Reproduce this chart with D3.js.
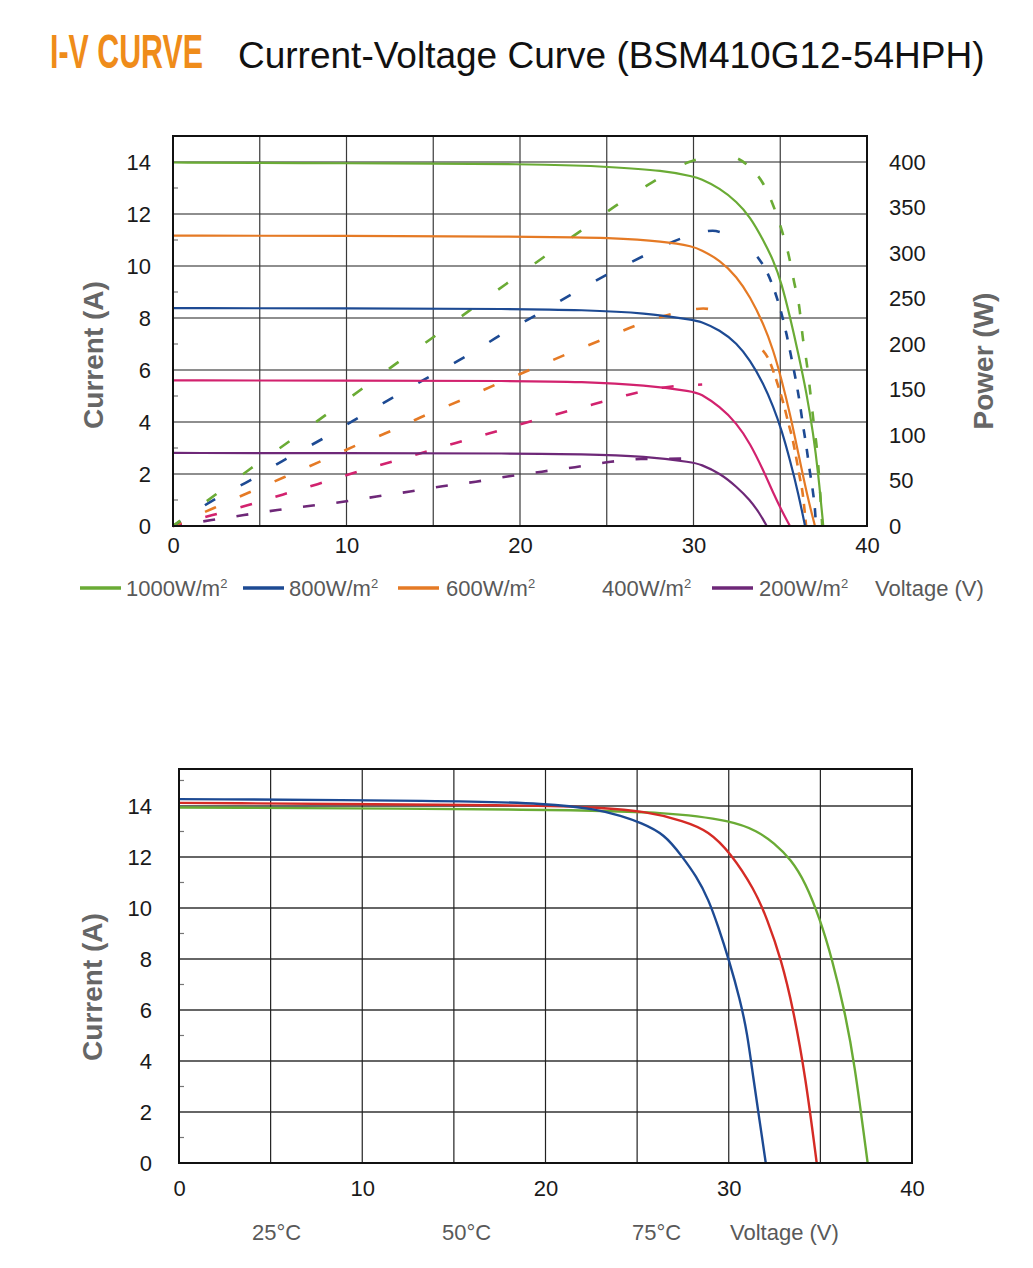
<!DOCTYPE html>
<html>
<head>
<meta charset="utf-8">
<script src="https://cdn.jsdelivr.net/npm/d3@7"></script>
<style>
  body { margin: 0; background: #fff; }
  text { font-family: "Liberation Sans", Arial, sans-serif; }
</style>
</head>
<body>
<div id="chart"></div>
<script>
// ---- data ----
// top panel: I-V curves [voltage V, current A]
const ivGreen = [[0,13.98],[5,13.97],[10,13.95],[15,13.94],[20,13.92],[23.5,13.86],[24.6,13.83],[28.45,13.67],[30.0,13.43],[30.37,13.37],[31.53,12.99],[32.49,12.47],[33.26,11.9],[34.02,11.0],[34.6,10.23],[35.08,9.33],[35.56,8.05],[36.04,6.64],[36.52,5.1],[36.9,3.56],[37.19,2.03],[37.48,0]];
const ivOrange = [[0,11.17],[10,11.16],[20,11.13],[23.5,11.1],[24.6,11.09],[28.45,10.95],[30.0,10.74],[30.37,10.64],[31.53,10.23],[32.49,9.59],[33.26,8.82],[34.02,7.8],[34.6,6.77],[35.08,5.62],[35.56,4.33],[36.04,2.8],[36.52,1.26],[37.0,0]];
const ivBlue = [[0,8.38],[10,8.37],[20,8.35],[23.5,8.31],[27.3,8.2],[30.0,7.92],[30.37,7.88],[31.53,7.54],[32.49,7.03],[33.26,6.38],[34.02,5.49],[34.6,4.59],[35.08,3.69],[35.56,2.54],[36.04,1.26],[36.43,0]];
const ivMagenta = [[0,5.6],[10,5.59],[20,5.58],[23.5,5.55],[27.3,5.42],[30.0,5.17],[30.37,5.1],[31.53,4.59],[32.49,3.95],[33.26,3.18],[34.02,2.15],[34.6,1.26],[35.08,0.6],[35.56,0]];
const ivPurple = [[0,2.81],[10,2.8],[20,2.79],[23.5,2.77],[27.3,2.68],[30.0,2.44],[30.37,2.38],[31.53,2.03],[32.49,1.51],[33.26,1.0],[33.8,0.5],[34.22,0]];

// top panel: P-V curves [voltage V, power W]
const pvGreen = [[0,0],[2.42,34],[4.5,63.4],[6.63,92],[8.73,121],[10.84,150],[12.9,179],[15.04,208],[17.1,237],[19.2,266],[21.3,294.5],[23.4,323],[25.53,352],[27.64,378],[29.74,400],[31.82,409],[33.2,395],[34.05,375],[34.6,352],[35.07,326],[35.48,298],[35.8,268],[36.1,240],[36.3,207],[36.54,177],[36.73,147],[36.93,113],[37.13,81],[37.26,48],[37.42,0]];
const pvBlue = [[0,0],[2.44,29.7],[4.47,50.5],[6.5,73.6],[8.6,95.6],[10.66,118.7],[12.74,141.8],[14.84,164.8],[16.93,187],[18.99,211],[21.04,233],[23.1,256],[25.19,278],[27.26,298],[29.37,316.5],[31.1,324.5],[31.76,321.6],[33.68,296],[34.26,278],[34.68,258],[35.05,235],[35.37,210],[35.62,187],[35.88,162],[36.11,137],[36.3,112],[36.5,88],[36.69,62],[36.88,38],[37.0,18],[37.06,0]];
const pvOrange = [[0,0],[2.36,19.8],[4.38,36.8],[6.43,53.8],[8.47,70.7],[10.49,88],[12.56,104.4],[14.58,122],[16.63,138.5],[18.66,156],[20.68,172.5],[22.71,189],[24.76,205],[26.77,221],[28.88,233.5],[30.56,239],[31.24,237],[33.99,193],[34.31,184],[34.64,168],[34.93,151],[35.18,135],[35.47,113],[35.72,94.5],[35.91,76],[36.1,56],[36.29,36],[36.49,0]];
const pvMagenta = [[0,0],[2.28,12],[4.29,22.7],[6.31,34.4],[8.33,46],[10.35,58],[12.3,68.9],[14.28,80],[16.25,91],[18.25,101.9],[20.23,112.9],[22.22,123.4],[24.18,133.5],[26.2,144],[28.21,152],[30.5,155.5]];
const pvPurple = [[0,0],[2.22,6.5],[4.09,12],[6.02,17.6],[7.94,22.2],[9.8,26.6],[11.73,32.4],[13.66,37.9],[15.53,43.7],[17.45,48.7],[19.37,54.7],[21.26,59.7],[23.17,64.6],[25.0,70],[26.97,73.6],[29.3,74]];

// bottom panel: I-V curves at different cell temperatures
const tBlue = [[0,14.27],[14.86,14.21],[20.15,14.1],[22.8,13.87],[24.13,13.61],[25.19,13.35],[26.51,12.89],[27.44,12.03],[28.23,11.25],[28.9,10.33],[29.42,9.28],[30.01,7.97],[30.62,6.4],[31.01,5.09],[31.33,3.38],[31.68,1.68],[32.02,0]];
const tRed = [[0,14.12],[20.15,14.03],[22.8,13.94],[25.45,13.8],[27.57,13.41],[28.9,13.02],[30.09,12.17],[31.41,10.72],[32.08,9.6],[32.87,7.97],[33.53,6.0],[34.19,3.38],[34.8,0]];
const tGreen = [[0,13.94],[20.15,13.87],[26.78,13.76],[30.22,13.41],[31.54,13.02],[32.47,12.56],[33.4,11.9],[34.19,10.99],[34.99,9.54],[35.65,7.97],[36.31,6.0],[36.84,4.04],[37.58,0]];

const irradianceLabels = ["1000W/m", "800W/m", "600W/m", "400W/m", "200W/m"];
const tempLabels = ["25°C", "50°C", "75°C"];
const voltTicks = [0, 10, 20, 30, 40];
const currentTicks = [0, 2, 4, 6, 8, 10, 12, 14];
const powerTicks = [0, 50, 100, 150, 200, 250, 300, 350, 400];

// ---- colours ----
const green = "#6aab35", blue = "#1d4a93", orange = "#e57a25", magenta = "#d2226e", purple = "#6e2878", red = "#d52b25";

const svg = d3.select("#chart").append("svg")
    .attr("width", 1033)
    .attr("height", 1268);

svg.append("rect").attr("width", 1033).attr("height", 1268).attr("fill", "#fff");

// titles (the orange one is a condensed face in the original, squeezed here)
svg.append("text")
    .attr("transform", "translate(50,68) scale(0.62,1)")
    .style("font-size", "49px").style("font-weight", "bold").style("fill", "#ef8c1a")
    .text("I-V CURVE");

svg.append("text")
    .attr("x", 238).attr("y", 68)
    .style("font-size", "37px").style("fill", "#111")
    .text("Current-Voltage Curve (BSM410G12-54HPH)");

// ---- helpers ----
function drawGrid(g, x, y, hVals, vVals, hColor, vColor) {
  g.selectAll(".hgrid").data(hVals).enter().append("line")
      .attr("x1", x.range()[0]).attr("x2", x.range()[1])
      .attr("y1", d => y(d)).attr("y2", d => y(d))
      .style("stroke", hColor).style("stroke-width", 2);
  g.selectAll(".vgrid").data(vVals).enter().append("line")
      .attr("x1", d => x(d)).attr("x2", d => x(d))
      .attr("y1", y.range()[0]).attr("y2", y.range()[1])
      .style("stroke", vColor).style("stroke-width", 1.2);
  // small ticks on the left edge
  g.selectAll(".minor").data(hVals.map(v => v - 1).concat([hVals[hVals.length - 1] + 1])).enter().append("line")
      .attr("x1", x.range()[0]).attr("x2", x.range()[0] + 5)
      .attr("y1", d => y(d)).attr("y2", d => y(d))
      .style("stroke", "#777").style("stroke-width", 1.2);
}

function styleAxis(g, size) {
  g.select(".domain").remove();
  g.selectAll("text").style("font-size", size + "px").style("fill", "#1a1a1a")
      .style("font-family", "'Liberation Sans', Arial, sans-serif");
}

function frame(g, x, y) {
  g.append("rect")
      .attr("x", x.range()[0]).attr("y", y.range()[1])
      .attr("width", x.range()[1] - x.range()[0])
      .attr("height", y.range()[0] - y.range()[1])
      .style("fill", "none").style("stroke", "#111").style("stroke-width", 2);
}

function axisTitle(x, y, label) {
  svg.append("text")
      .attr("transform", "translate(" + x + "," + y + ") rotate(-90)")
      .attr("text-anchor", "middle").attr("dy", "0.35em")
      .style("font-size", "28px").style("font-weight", "bold").style("fill", "#666")
      .text(label);
}

// ---- top panel ----
const x1 = d3.scaleLinear().domain([0, 40]).range([173, 867]);
const y1 = d3.scaleLinear().domain([0, 15]).range([526, 136]);
const p1 = d3.scaleLinear().domain([0, 400 * 15 / 14]).range([526, 136]);

const topPanel = svg.append("g");
drawGrid(topPanel, x1, y1, [2, 4, 6, 8, 10, 12, 14], [5, 10, 15, 20, 25, 30, 35], "#8e8e8e", "#3a3a3a");

const ivLine = d3.line().x(d => x1(d[0])).y(d => y1(d[1])).curve(d3.curveBasis);
const pvLine = d3.line().x(d => x1(d[0])).y(d => p1(d[1])).curve(d3.curveMonotoneX);

// rising part up to riseEnd volts, falling part from fallStart volts (the gap is blank in the original)
const pvSeries = [
  {data: pvPurple, color: purple, rise: "12,21.6", fall: "10,12", riseEnd: 40, fallStart: 40},
  {data: pvMagenta, color: magenta, rise: "12,24.5", fall: "10,12", riseEnd: 40, fallStart: 40},
  {data: pvOrange, color: orange, rise: "12,26", fall: "9,7", riseEnd: 31.24, fallStart: 33.99},
  {data: pvBlue, color: blue, rise: "12,29", fall: "9,11", riseEnd: 31.76, fallStart: 33.68},
  {data: pvGreen, color: green, rise: "12,33", fall: "10,17", riseEnd: 31.82, fallStart: 31.82}
];

pvSeries.forEach(s => {
  const rising = s.data.filter(d => d[0] <= s.riseEnd);
  const falling = s.data.filter(d => d[0] >= s.fallStart);
  topPanel.append("path")
      .attr("d", pvLine(rising))
      .style("fill", "none").style("stroke", s.color).style("stroke-width", 2.6)
      .style("stroke-dasharray", s.rise).style("stroke-dashoffset", 3);
  if (falling.length > 1) {
    topPanel.append("path")
        .attr("d", pvLine(falling))
        .style("fill", "none").style("stroke", s.color).style("stroke-width", 2.6)
        .style("stroke-dasharray", s.fall).style("stroke-dashoffset", s.riseEnd === s.fallStart ? -14 : 0);
  }
});

[[ivPurple, purple], [ivMagenta, magenta], [ivBlue, blue], [ivOrange, orange], [ivGreen, green]].forEach(s => {
  topPanel.append("path")
      .attr("d", ivLine(s[0]))
      .style("fill", "none").style("stroke", s[1]).style("stroke-width", 2.2);
});

frame(topPanel, x1, y1);

topPanel.append("g").attr("transform", "translate(173,0)")
    .call(d3.axisLeft(y1).tickValues(currentTicks).tickSize(0).tickPadding(22))
    .call(g => styleAxis(g, 22));
topPanel.append("g").attr("transform", "translate(867,0)")
    .call(d3.axisRight(p1).tickValues(powerTicks).tickSize(0).tickPadding(22))
    .call(g => styleAxis(g, 22));
topPanel.append("g").attr("transform", "translate(0,526)")
    .call(d3.axisBottom(x1).tickValues(voltTicks).tickSize(0).tickPadding(11))
    .call(g => styleAxis(g, 22));

axisTitle(93, 355, "Current (A)");
axisTitle(983, 361, "Power (W)");

// legend, top panel
const legendTop = [
  {label: irradianceLabels[0], color: green, x: 80, tx: 126},
  {label: irradianceLabels[1], color: blue, x: 243, tx: 289},
  {label: irradianceLabels[2], color: orange, x: 398, tx: 446},
  {label: irradianceLabels[3], color: null, x: 0, tx: 602},
  {label: irradianceLabels[4], color: purple, x: 712, tx: 759}
];
legendTop.forEach(d => {
  if (d.color) {
    svg.append("line").attr("x1", d.x).attr("x2", d.x + 41).attr("y1", 588).attr("y2", 588)
        .style("stroke", d.color).style("stroke-width", 3.5);
  }
  const t = svg.append("text").attr("x", d.tx).attr("y", 596)
      .style("font-size", "22px").style("fill", "#595959").text(d.label);
  t.append("tspan").attr("dy", -8).style("font-size", "13px").text("2");
});
svg.append("text").attr("x", 875).attr("y", 596)
    .style("font-size", "22px").style("fill", "#595959").text("Voltage (V)");

// ---- bottom panel ----
const x2 = d3.scaleLinear().domain([0, 40]).range([179, 912]);
const y2 = d3.scaleLinear().domain([0, 15.45]).range([1163, 769]);

const bottomPanel = svg.append("g");
drawGrid(bottomPanel, x2, y2, [2, 4, 6, 8, 10, 12, 14], [5, 10, 15, 20, 25, 30, 35], "#666", "#222");

const tLine = d3.line().x(d => x2(d[0])).y(d => y2(d[1])).curve(d3.curveBasis);
[[tGreen, green], [tRed, red], [tBlue, blue]].forEach(s => {
  bottomPanel.append("path")
      .attr("d", tLine(s[0]))
      .style("fill", "none").style("stroke", s[1]).style("stroke-width", 2.4);
});

frame(bottomPanel, x2, y2);

bottomPanel.append("g").attr("transform", "translate(179,0)")
    .call(d3.axisLeft(y2).tickValues(currentTicks).tickSize(0).tickPadding(27))
    .call(g => styleAxis(g, 22));
bottomPanel.append("g").attr("transform", "translate(0,1163)")
    .call(d3.axisBottom(x2).tickValues(voltTicks).tickSize(0).tickPadding(17))
    .call(g => styleAxis(g, 22));

axisTitle(92, 987, "Current (A)");

[252, 442, 632].forEach((tx, i) => {
  svg.append("text").attr("x", tx).attr("y", 1240)
      .style("font-size", "22px").style("fill", "#595959").text(tempLabels[i]);
});
svg.append("text").attr("x", 730).attr("y", 1240)
    .style("font-size", "22px").style("fill", "#595959").text("Voltage (V)");
</script>
</body>
</html>
